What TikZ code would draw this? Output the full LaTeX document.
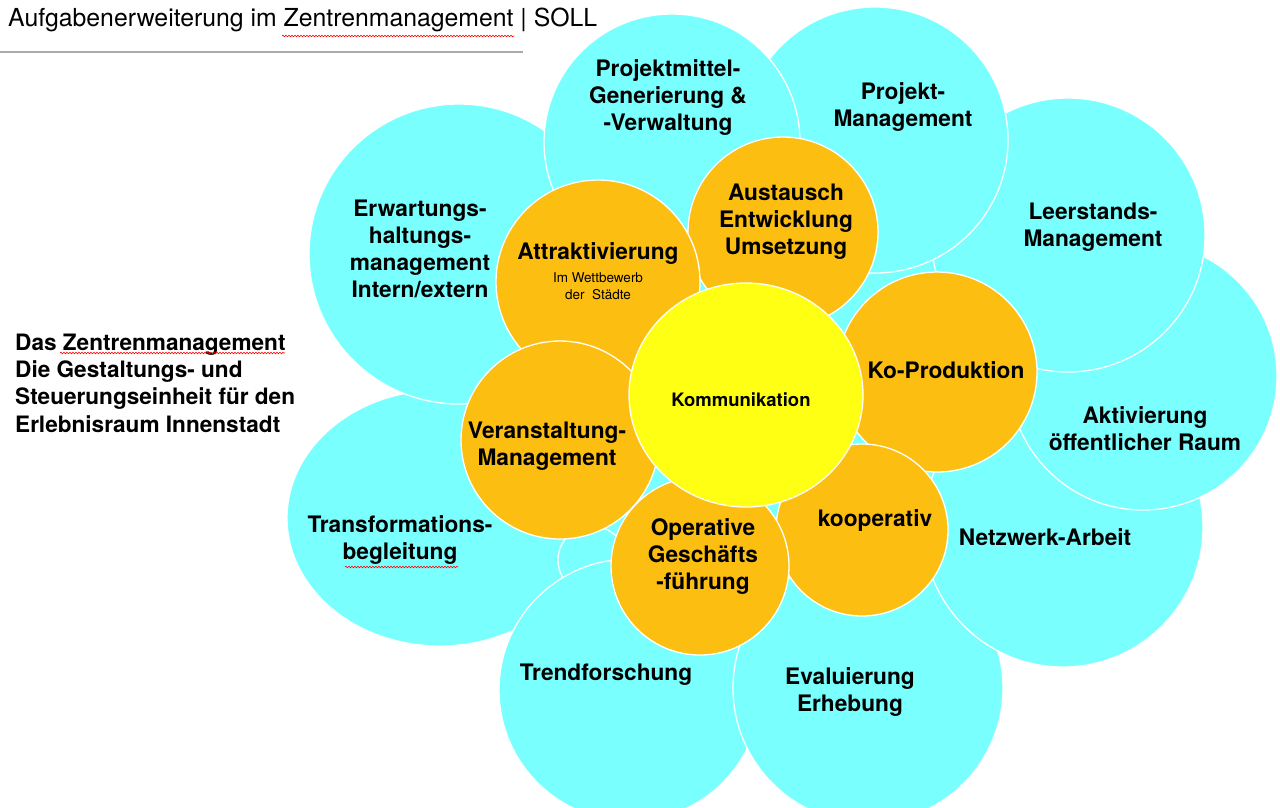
\documentclass[tikz,border=0pt]{standalone}
\usepackage{fontspec}
\setmainfont{TeX Gyre Heros}
\usetikzlibrary{shapes.geometric,decorations.pathmorphing}
\definecolor{petal}{RGB}{122,255,255}
\definecolor{bud}{RGB}{253,190,18}
\definecolor{core}{RGB}{255,255,20}
\definecolor{rule}{RGB}{170,170,170}
\begin{document}
\begin{tikzpicture}[x=1pt,y=-1pt,
  blob/.style={fill=#1,draw=white,line width=1.3pt,inner sep=0pt},
  petal/.style={circle,blob=petal,minimum size=#1},
  bud/.style={circle,blob=bud,minimum size=#1},
  lbl/.style={align=center,inner sep=0pt,font=\fontsize{22.7}{27}\selectfont\bfseries},
  wavy/.style={draw=red,line width=0.6pt,decorate,decoration={snake,amplitude=0.8pt,segment length=3pt}},
]
\useasboundingbox (0,0) rectangle (1280,807);

% title
\node[anchor=west,inner sep=0pt,font=\fontsize{24.8}{28}\selectfont] (title) at (8,20) {Aufgabenerweiterung im Zentrenmanagement | SOLL};
\draw[rule,line width=1.5pt] (0,52) -- (523,52);

% cyan underlay between petals
\fill[petal] (440,518) -- (459,254) -- (672,142) -- (875,140) -- (1068,235) -- (1143,376) -- (1063,527) -- (868,688) -- (630,690) -- cycle;

% cyan petals
\node[ellipse,blob=petal,minimum width=306pt,minimum height=256pt] (ctra) at (440,518) {};
\node[petal=300pt] (cerw) at (459,254) {};
\fill[petal] (592,560) circle[radius=34];
\node[petal=262pt] (ctre) at (630,690) {};
\node[petal=270pt] (ceva) at (868,688) {};
\node[petal=280pt] (cnet) at (1063,527) {};
\node[petal=268pt] (cakt) at (1143,376) {};
\node[petal=274pt] (clee) at (1068,235) {};
\node[petal=266pt] (cpma) at (875,140) {};
\node[petal=256pt] (cpmi) at (672,142) {};

% orange buds
\node[bud=190pt] (oaus) at (783,232) {};
\node[bud=204pt] (oatt) at (598,282) {};
\node[bud=198pt] (over) at (560,440) {};
\node[bud=200pt] (okop) at (937,372) {};
\node[bud=172pt] (ocoo) at (862,530) {};
\node[bud=178pt] (oope) at (700,566) {};

% yellow core
\node[ellipse,blob=core,minimum width=234pt,minimum height=224pt] (ykom) at (746,395) {};

% labels
\node[lbl] (tpmi) at (668,97.5) {Projektmittel-\\Generierung \&\\-Verwaltung};
\node[lbl] (tpma) at (903,107) {Projekt-\\Management};
\node[lbl] (tlee) at (1093,227) {Leerstands-\\Management};
\node[lbl] (takt) at (1145,429) {Aktivierung\\öffentlicher Raum};
\node[lbl] (tnet) at (1045,537) {Netzwerk-Arbeit};
\node[lbl] (teva) at (850,692) {Evaluierung\\Erhebung};
\node[lbl] (ttre) at (606,675) {Trendforschung};
\node[lbl] (ttra) at (400,540) {Transformations-\\begleitung};
\node[lbl] (terw) at (420,249) {Erwartungs-\\haltungs-\\management\\Intern/extern};
\node[lbl] (tatt) at (598,254) {Attraktivierung};
\node[align=center,inner sep=0pt,font=\fontsize{13.5}{17}\selectfont] (tatt2) at (598,286) {Im Wettbewerb\\der\ \ Städte};
\node[lbl] (taus) at (786,222) {Austausch\\Entwicklung\\Umsetzung};
\node[lbl] (tkop) at (946,370) {Ko-Produktion};
\node[lbl] (tcoo) at (875,521) {kooperativ};
\node[lbl] (tope) at (703,557) {Operative\\Geschäfts\\-führung};
\node[lbl] (tver) at (547,446) {Veranstaltung-\\Management};
\node[lbl,font=\fontsize{18.5}{20}\selectfont\bfseries] (tkom) at (741,400) {Kommunikation};

% left statement
\node[anchor=west,align=left,inner sep=0pt,font=\fontsize{22.6}{27.3}\selectfont\bfseries] (tleft) at (15,383)
  {Das Zentrenmanagement\\Die Gestaltungs- und\\Steuerungseinheit für den\\Erlebnisraum Innenstadt};

% spell-check marks
\draw[wavy] (282,36) -- (514,36);
\draw[wavy] (60,353) -- (285,353);
\draw[wavy] (345,567) -- (458,567);
\end{tikzpicture}
\end{document}
